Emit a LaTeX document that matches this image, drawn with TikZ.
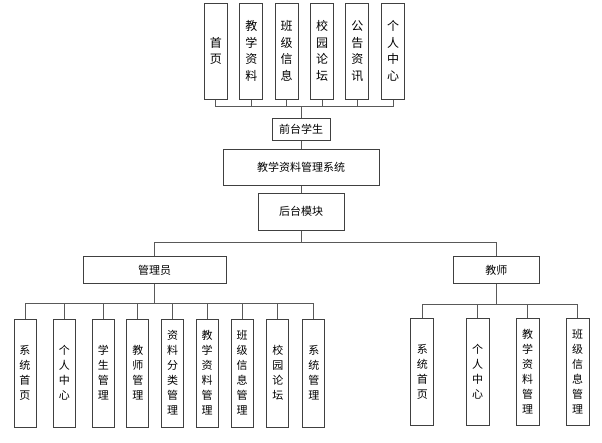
\documentclass[tikz,border=0pt]{standalone}
\usepackage{fontspec}
\setmainfont{Noto Sans CJK SC}
\usetikzlibrary{positioning}

\begin{document}
\begin{tikzpicture}[x=1pt,y=-1pt,
  box/.style={draw=black!75, line width=1pt, fill=white, inner sep=0pt, font=\fontsize{11}{13}\selectfont},
  tbox/.style={box, minimum width=23pt, minimum height=96pt, align=center, font=\fontsize{12}{16.5}\selectfont},
  sbox/.style={box, minimum width=22pt, minimum height=108pt, align=center, font=\fontsize{11}{15}\selectfont},
  link/.style={draw=black!65, line width=0.9pt}]

\useasboundingbox (0,0) rectangle (602,442);

% front part
\node[box, minimum width=58pt, minimum height=22pt] (qt) at (301,129) {前台学生};
\coordinate (qbus) at (301,106);

\foreach \x/\t [count=\i] in {215.8/{首\\页}, 251.3/{教\\学\\资\\料}, 286.5/{班\\级\\信\\息},
  322/{校\\园\\论\\坛}, 357.3/{公\\告\\资\\讯}, 393/{个\\人\\中\\心}}
{
\node[tbox] (t\i) at (\x,51) {\t};
\draw[link] (t\i.south) |- (qbus);
}
\draw[link] (qbus) -- (qt.north);

% system and back part
\node[box, minimum width=156pt, minimum height=36pt] (sys) at (301,167.5) {教学资料管理系统};
\node[box, minimum width=86pt, minimum height=37pt] (ht) at (301,211.7) {后台模块};
\draw[link] (qt.south) -- (sys.north);
\draw[link] (sys.south) -- (ht.north);

\node[box, minimum width=143pt, minimum height=27pt] (admin) at (154.7,270.3) {管理员};
\node[box, minimum width=86pt, minimum height=27pt] (teacher) at (496.3,270.3) {教师};
\coordinate (hbus) at (301,242);
\draw[link] (ht.south) -- (hbus);
\draw[link] (hbus) -| (admin.north);
\draw[link] (hbus) -| (teacher.north);

% admin modules
\coordinate (abus) at (154.7,303.5);
\draw[link] (admin.south) -- (abus);
\foreach \x/\t [count=\i] in {25/{系\\统\\首\\页}, 64.3/{个\\人\\中\\心}, 103.3/{学\\生\\管\\理},
  137.8/{教\\师\\管\\理}, 172.5/{资\\料\\分\\类\\管\\理}, 207/{教\\学\\资\\料\\管\\理},
  242/{班\\级\\信\\息\\管\\理}, 277.8/{校\\园\\论\\坛}, 313.8/{系\\统\\管\\理}}
{
\node[sbox] (a\i) at (\x,373) {\t};
\draw[link] (a\i.north) |- (abus);
}

% teacher modules
\coordinate (bbus) at (496.3,304);
\draw[link] (teacher.south) -- (bbus);
\foreach \x/\t [count=\i] in {422.3/{系\\统\\首\\页}, 477.7/{个\\人\\中\\心},
  527.7/{教\\学\\资\\料\\管\\理}, 577.7/{班\\级\\信\\息\\管\\理}}
{
\node[sbox, minimum width=23pt, minimum height=107pt] (b\i) at (\x,371.5) {\t};
\draw[link] (b\i.north) |- (bbus);
}

\end{tikzpicture}
\end{document}
